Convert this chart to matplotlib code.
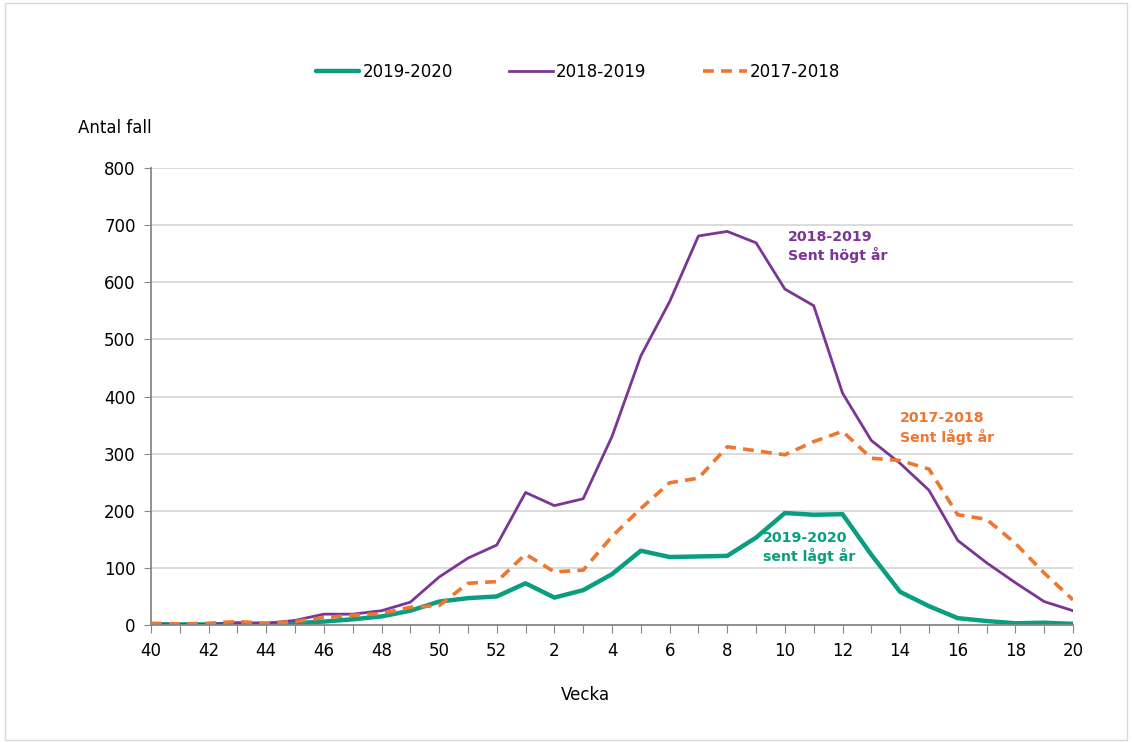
import matplotlib.pyplot as plt
import numpy as np

# Weeks 40-52 then 1-20
weeks = list(range(40, 53)) + list(range(1, 21))

s2019_2020 = [1, 1, 1, 2, 2, 3, 6, 10, 15, 25, 41, 47, 50, 73, 48, 61, 89, 130, 119,
              120, 121, 153, 196, 193, 194, 123, 58, 33, 12, 7, 3, 4, 2]
s2018_2019 = [2, 1, 1, 4, 3, 8, 19, 19, 25, 40, 84, 117, 140, 232, 209, 221, 330, 471, 566,
              681, 689, 669, 588, 559, 406, 323, 283, 236, 148, 109, 74, 41, 25]
s2017_2018 = [3, 2, 3, 6, 3, 6, 13, 17, 20, 31, 34, 73, 76, 124, 93, 96, 155, 204, 249,
              257, 312, 305, 298, 321, 339, 292, 288, 273, 193, 185, 143, 91, 44]

green = '#0A9E80'
purple = '#7B3595'
orange = '#EE7631'

plt.rcParams['font.family'] = ['DejaVu Sans']

fig = plt.figure(figsize=(11.32, 7.43), dpi=100)
ax = fig.add_axes([151 / 1132, 1 - 625 / 743, 922 / 1132, 457 / 743])

x = np.arange(len(weeks))
ax.plot(x, s2019_2020, color=green, lw=3.2, label='2019-2020', solid_capstyle='round')
ax.plot(x, s2018_2019, color=purple, lw=2, label='2018-2019')
ax.plot(x, s2017_2018, color=orange, lw=2.6, ls=(0, (3, 2)), label='2017-2018')

ax.set_xlim(0, len(weeks) - 1)
ax.set_ylim(0, 800)
ax.set_yticks(range(0, 801, 100))
ax.set_xticks(x)
ax.set_xticklabels([str(w) if w % 2 == 0 else '' for w in weeks])
ax.tick_params(axis='x', length=6, color='#888888', labelsize=12, pad=6)
ax.tick_params(axis='y', length=5, color='#888888', labelsize=12, pad=6)
ax.grid(axis='y', color='#d9d9d9', lw=1.3)
ax.set_axisbelow(True)
for side in ['top', 'right']:
    ax.spines[side].set_visible(False)
for side in ['left', 'bottom']:
    ax.spines[side].set_color('#888888')
    ax.spines[side].set_linewidth(1.3)

fig.text(78 / 1132, 1 - 128 / 743, 'Antal fall', fontsize=12, va='center')
fig.text(585 / 1132, 1 - 695 / 743, 'Vecka', fontsize=12, ha='center', va='center')

ax.legend(loc='center', bbox_to_anchor=(578 / 1132, 1 - 72 / 743), bbox_transform=fig.transFigure,
          ncol=3, frameon=False, fontsize=12, handlelength=2.6, handletextpad=0.2,
          columnspacing=3.4)

ax.text(22.1, 662, '2018-2019\nSent högt år', color=purple, fontsize=10.2, fontweight='bold',
        va='center', linespacing=1.25)
ax.text(26.0, 345, '2017-2018\nSent lågt år', color=orange, fontsize=10.2, fontweight='bold',
        va='center', linespacing=1.25)
ax.text(21.25, 136, '2019-2020\nsent lågt år', color=green, fontsize=10.2, fontweight='bold',
        va='center', linespacing=1.25)

fig.patches.append(plt.Rectangle((0.004, 0.004), 0.992, 0.992, transform=fig.transFigure,
                                 fill=False, edgecolor='#d9d9d9', lw=1))

fig.savefig('out.png', dpi=100)
